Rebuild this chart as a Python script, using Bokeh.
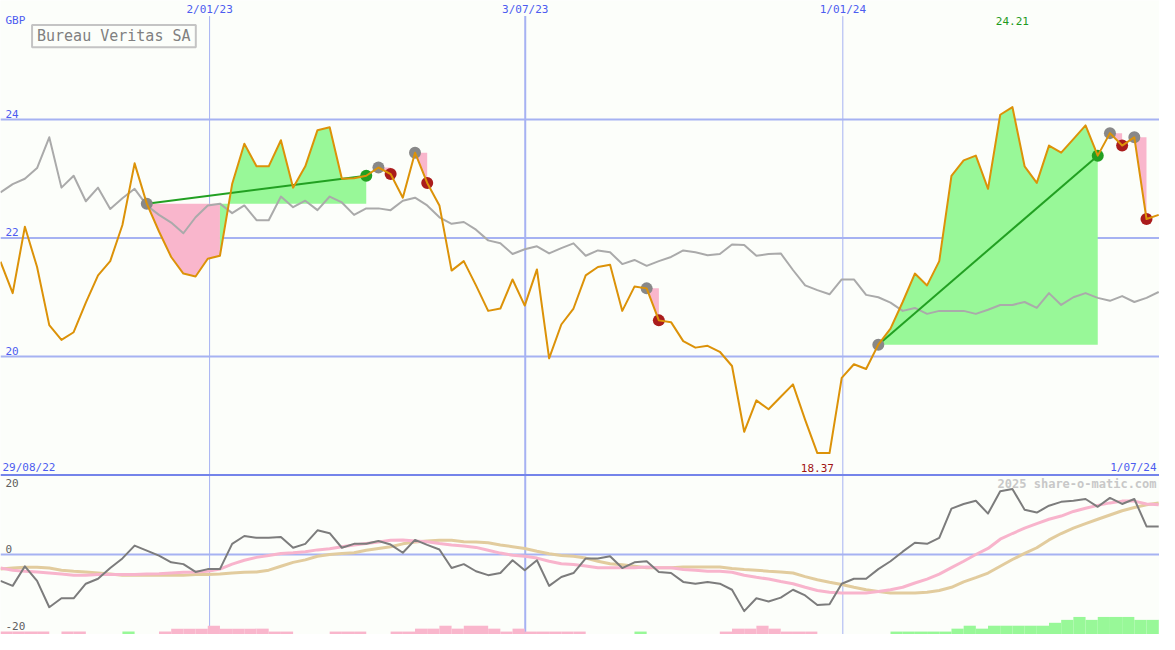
from bokeh.plotting import figure
from bokeh.models import Range1d, Span
from bokeh.embed import file_html
from bokeh.resources import INLINE
from bokeh.core.properties import value

# ---------------- data ----------------
title = "Bureau Veritas SA"
currency = "GBP"
start_label = "29/08/22"
end_label = "1/07/24"
watermark = "2025 share-o-matic.com"

price = [21.60, 21.07, 22.19, 21.51, 20.53, 20.28, 20.41, 20.91, 21.37, 21.61,
         22.22, 23.26, 22.58, 22.11, 21.68, 21.40, 21.35, 21.65, 21.70, 22.91,
         23.59, 23.21, 23.21, 23.65, 22.85, 23.21, 23.82, 23.87, 23.00, 23.01,
         23.05, 23.19, 23.08, 22.68, 23.44, 22.93, 22.55, 21.45, 21.61, 21.20,
         20.77, 20.81, 21.30, 20.86, 21.47, 19.97, 20.54, 20.81, 21.37, 21.51,
         21.55, 20.77, 21.18, 21.15, 20.61, 20.58, 20.26, 20.15, 20.18, 20.08,
         19.84, 18.73, 19.26, 19.11, 19.32, 19.53, 18.93, 18.37, 18.37, 19.64,
         19.87, 19.79, 20.20, 20.47, 20.92, 21.40, 21.20, 21.61, 23.05, 23.31,
         23.39, 22.83, 24.08, 24.21, 23.21, 22.93, 23.56, 23.44, 23.67, 23.90,
         23.39, 23.77, 23.56, 23.70, 22.32, 22.39]

benchmark = [22.77, 22.91, 23.00, 23.18, 23.70, 22.85, 23.05, 22.62, 22.85, 22.49,
             22.67, 22.83, 22.55, 22.39, 22.26, 22.08, 22.35, 22.55, 22.58, 22.42,
             22.55, 22.30, 22.30, 22.70, 22.52, 22.63, 22.47, 22.70, 22.60, 22.39,
             22.50, 22.50, 22.47, 22.63, 22.68, 22.55, 22.35, 22.24, 22.27, 22.14,
             21.96, 21.91, 21.73, 21.81, 21.86, 21.74, 21.83, 21.91, 21.70, 21.79,
             21.76, 21.56, 21.63, 21.53, 21.61, 21.68, 21.79, 21.76, 21.71, 21.73,
             21.89, 21.88, 21.70, 21.73, 21.74, 21.46, 21.20, 21.12, 21.05, 21.30,
             21.30, 21.04, 21.00, 20.91, 20.77, 20.82, 20.72, 20.77, 20.77, 20.77,
             20.72, 20.79, 20.87, 20.87, 20.92, 20.82, 21.07, 20.87, 21.00, 21.07,
             20.99, 20.94, 21.02, 20.92, 20.99, 21.09]

momentum = [-7.4, -8.8, -3.3, -7.4, -14.8, -12.3, -12.3, -8.2, -6.8, -3.8,
            -1.1, 2.5, 1.1, -0.3, -2.2, -2.7, -4.9, -4.1, -4.1, 3.0,
            5.2, 4.7, 4.7, 4.9, 1.9, 3.0, 6.8, 6.0, 1.9, 3.0,
            3.0, 3.8, 2.8, 0.5, 4.1, 2.7, 1.4, -3.8, -2.7, -4.7,
            -5.8, -5.2, -1.6, -4.4, -1.6, -8.8, -6.3, -5.2, -1.1, -1.1,
            -0.5, -3.8, -2.2, -1.9, -4.9, -5.2, -7.7, -8.2, -7.7, -8.2,
            -9.9, -15.9, -12.3, -13.2, -12.1, -9.9, -11.5, -14.2, -14.0, -8.2,
            -6.8, -6.8, -4.1, -1.9, 0.8, 3.3, 3.0, 4.7, 12.9, 14.2,
            15.1, 11.5, 17.8, 18.4, 12.6, 11.8, 13.7, 14.8, 15.1, 15.6,
            13.4, 15.9, 14.2, 15.6, 7.9, 7.9]

momentum_fast = [-3.8, -4.4, -4.7, -4.9, -5.2, -5.5, -5.8, -5.8, -5.6, -5.6,
                 -5.6, -5.6, -5.5, -5.4, -5.2, -5.0, -4.9, -4.7, -4.1, -2.7,
                 -1.6, -0.8, -0.3, 0.3, 0.5, 0.8, 1.3, 1.6, 2.2, 2.7,
                 3.1, 3.5, 4.0, 4.1, 3.8, 3.6, 3.1, 2.7, 2.4, 2.0,
                 1.2, 0.4, -0.2, -0.5, -1.0, -1.9, -2.6, -2.8, -3.2, -3.7,
                 -3.7, -3.7, -3.7, -3.5, -3.7, -3.7, -4.2, -4.4, -4.7, -4.7,
                 -5.0, -5.8, -6.4, -6.9, -7.6, -8.2, -9.2, -10.1, -10.6, -10.8,
                 -10.8, -10.8, -10.4, -9.9, -9.2, -8.0, -6.9, -5.5, -3.7, -1.9,
                 0.0, 1.7, 4.3, 5.9, 7.4, 8.7, 9.9, 10.8, 12.1, 13.0,
                 13.8, 14.5, 15.0, 15.0, 14.2, 14.0]

momentum_slow = [-4.1, -3.8, -3.6, -3.6, -3.8, -4.4, -4.7, -4.9, -5.2, -5.5,
                 -5.8, -5.8, -5.8, -5.8, -5.8, -5.8, -5.6, -5.6, -5.5, -5.2,
                 -5.0, -4.9, -4.4, -3.3, -2.2, -1.5, -0.5, 0.0, 0.3, 0.5,
                 1.2, 1.7, 2.2, 3.0, 3.5, 3.8, 4.0, 4.0, 3.6, 3.5,
                 3.3, 2.7, 2.2, 1.7, 0.9, 0.2, -0.3, -0.5, -1.0, -1.9,
                 -2.6, -2.9, -3.3, -3.7, -3.7, -3.7, -3.5, -3.5, -3.5, -3.5,
                 -3.9, -4.2, -4.4, -4.7, -4.9, -5.2, -6.2, -7.1, -7.8, -8.4,
                 -9.2, -9.9, -10.4, -10.8, -10.8, -10.8, -10.6, -10.1, -9.2, -7.7,
                 -6.5, -5.2, -3.3, -1.4, 0.3, 1.9, 4.1, 5.9, 7.4, 8.7,
                 9.9, 11.1, 12.3, 13.2, 14.0, 14.5]

signal = [-1, -1, -1, -1, 0, -1, -1, 0, 0, 0,
          1, 0, 0, -1, -2, -2, -2, -3, -2, -2,
          -2, -2, -1, -1, 0, 0, 0, -1, -1, -1,
          0, 0, -1, -1, -2, -2, -3, -2, -3, -3,
          -2, -1, -2, -1, -1, -1, -1, -1, 0, 0,
          0, 0, 1, 0, 0, 0, 0, 0, 0, -1,
          -2, -2, -3, -2, -1, -1, -1, 0, 0, 0,
          0, 0, 0, 1, 1, 1, 1, 1, 2, 3,
          2, 3, 3, 3, 3, 3, 4, 5, 6, 5,
          6, 6, 6, 5, 5, 5]

# trades: (entry week index, exit week index)
trades = [(12, 30), (31, 32), (34, 35), (53, 54), (72, 90), (91, 92), (93, 94)]

price_ticks = [20, 22, 24]
momentum_ticks = [20, 0, -20]
date_ticks = ["2/01/23", "3/07/23", "1/01/24"]
date_tick_pos = [17.15, 43.04, 69.09]   # in week index units

# ---------------- layout / style ----------------
W, H = 1159, 634
REF_W, REF_H = 1175, 650
PX_PER_STEP = 12.36
MAIN_REF_VAL, MAIN_REF_PX, MAIN_PX_PER_UNIT = 24.0, 122.0, 60.75
OSC_ZERO_PX, OSC_PX_PER_UNIT = 568.0, 3.65
BAR_PX_PER_LEVEL = 3.0

def xd(px):
    return px / PX_PER_STEP

def ym(px):
    return MAIN_REF_VAL - (px - MAIN_REF_PX) / MAIN_PX_PER_UNIT

def yo(px):
    return (OSC_ZERO_PX - px) / OSC_PX_PER_UNIT

BG = "#fcfefa"
GRID = "#a6b2f2"
GRID_DARK = "#7484ea"
BLUE_TXT = "#4c5cf0"
ORANGE = "#dc9208"
BENCH = "#aaaaaa"
GREEN_FILL = "#98f898"
PINK_FILL = "#f9b6cc"
GREEN_LINE = "#22a022"
RED_MARK = "#aa1c1c"
GRAY_MARK = "#888888"
MONO = value("DejaVu Sans Mono")

n = len(price)
idx = list(range(n))

p = figure(width=W, height=H, x_range=Range1d(0, xd(REF_W)),
           y_range=Range1d(ym(REF_H), ym(0)),
           output_backend="svg", toolbar_location=None, min_border=0,
           x_axis_location=None, y_axis_location=None,
           background_fill_color=BG, border_fill_color=BG, outline_line_color=None)
p.grid.visible = False
p.extra_y_ranges = {"osc": Range1d(yo(REF_H), yo(0))}

# grid lines
for v in price_ticks:
    p.add_layout(Span(location=v, dimension="width", line_color=GRID, line_width=2, level="underlay"))
p.add_layout(Span(location=18, dimension="width", line_color=GRID_DARK, line_width=2, level="underlay"))
p.add_layout(Span(location=0, dimension="width", line_color=GRID, line_width=2,
                  y_range_name="osc", level="underlay"))
date_line_widths = [1, 2, 1]
for pos, lw in zip(date_tick_pos, date_line_widths):
    p.segment(x0=[pos], y0=[ym(16)], x1=[pos], y1=[ym(REF_H)], line_color=GRID,
              line_width=lw, level="underlay")

# trade fills
fxs, fys, fcs = [], [], []
for e, x in trades:
    lvl = price[e]
    k = e
    while k < x:
        up = price[k + 1] >= lvl
        j = k
        while j < x and (price[j + 1] >= lvl) == up:
            j += 1
        fxs.append([k] + list(range(k, j + 1)) + [j])
        fys.append([lvl] + price[k:j + 1] + [lvl])
        fcs.append(GREEN_FILL if up else PINK_FILL)
        k = j
p.patches(xs=fxs, ys=fys, fill_color=fcs, line_color=None)

# benchmark line
p.line(idx, benchmark, line_color=BENCH, line_width=2, line_join="round")

# trade lines and markers
entry_x = [e for e, x in trades]
entry_y = [price[e] for e, x in trades]
exit_x = [x for e, x in trades]
exit_y = [price[x] for e, x in trades]
exit_c = [GREEN_LINE if price[x] > price[e] else RED_MARK for e, x in trades]
win = [(e, x) for e, x in trades if price[x] > price[e]]
p.segment(x0=[e for e, x in win], y0=[price[e] for e, x in win],
          x1=[x for e, x in win], y1=[price[x] for e, x in win],
          line_color=GREEN_LINE, line_width=2)
p.scatter(entry_x, entry_y, size=12, fill_color=GRAY_MARK, line_color=None)
p.scatter(exit_x, exit_y, size=12, fill_color=exit_c, line_color=None)

# price line
p.line(idx, price, line_color=ORANGE, line_width=2, line_join="round")

# lower panel: bars
osc_bottom = yo(REF_H)
bar_unit = BAR_PX_PER_LEVEL / OSC_PX_PER_UNIT
bl = [i for i in idx if signal[i] != 0]
p.quad(left=bl, right=[i + 1 for i in bl], bottom=[osc_bottom] * len(bl),
       top=[osc_bottom + abs(signal[i]) * bar_unit for i in bl],
       fill_color=[GREEN_FILL if signal[i] > 0 else PINK_FILL for i in bl],
       line_color=None, y_range_name="osc")

p.line(idx, momentum_slow, line_color="#e2cc9e", line_width=3, y_range_name="osc")
p.line(idx, momentum_fast, line_color="#f8b4cc", line_width=3, y_range_name="osc")
p.line(idx, momentum, line_color="#7c7c7c", line_width=2, line_join="round", y_range_name="osc")

# texts
p.text(x=[xd(5)] * len(price_ticks), y=[v + 6 / MAIN_PX_PER_UNIT for v in price_ticks],
       text=[str(v) for v in price_ticks], text_font=MONO, text_font_size="11px",
       text_color=BLUE_TXT, text_align="left", text_baseline="middle")
p.text(x=[xd(5)], y=[ym(21)], text=[currency], text_font=MONO, text_font_size="11px",
       text_color=BLUE_TXT, text_align="left", text_baseline="middle")
p.text(x=date_tick_pos, y=[ym(9)] * len(date_ticks), text=date_ticks, text_font=MONO,
       text_font_size="11px", text_color=BLUE_TXT, text_align="center", text_baseline="middle")
p.text(x=[xd(2)], y=[ym(479)], text=[start_label], text_font=MONO, text_font_size="11px",
       text_color=BLUE_TXT, text_align="left", text_baseline="middle")
p.text(x=[xd(1172)], y=[ym(479)], text=[end_label], text_font=MONO, text_font_size="11px",
       text_color=BLUE_TXT, text_align="right", text_baseline="middle")

imax = max(idx, key=lambda i: price[i])
imin = min(idx, key=lambda i: price[i])
p.text(x=[imax], y=[ym(21)], text=["%.2f" % price[imax]], text_font=MONO, text_font_size="11px",
       text_color="#1e9a1e", text_align="center", text_baseline="middle")
p.text(x=[imin], y=[ym(479)], text=["%.2f" % price[imin]], text_font=MONO, text_font_size="11px",
       text_color="#a01414", text_align="center", text_baseline="middle")

p.text(x=[xd(5)] * len(momentum_ticks),
       y=[v if v != 0 else v + 6 / OSC_PX_PER_UNIT for v in momentum_ticks],
       text=[str(v) for v in momentum_ticks], text_font=MONO, text_font_size="11px",
       text_color="#606060", text_align="left", text_baseline="middle", y_range_name="osc")

p.text(x=[xd(1172)], y=[ym(496)], text=[watermark], text_font=MONO, text_font_size="12px",
       text_font_style="bold", text_color="#c8c8c8", text_align="right", text_baseline="middle")

# title box
p.quad(left=[xd(32)], right=[xd(198)], top=[ym(25)], bottom=[ym(48)], fill_color=None,
       line_color="#c4c4c4", line_width=2)
p.text(x=[xd(37)], y=[ym(36.5)], text=[title], text_font=MONO, text_font_size="15px",
       text_color="#808080", text_align="left", text_baseline="middle")

open("out.html", "w").write(file_html(p, INLINE))
